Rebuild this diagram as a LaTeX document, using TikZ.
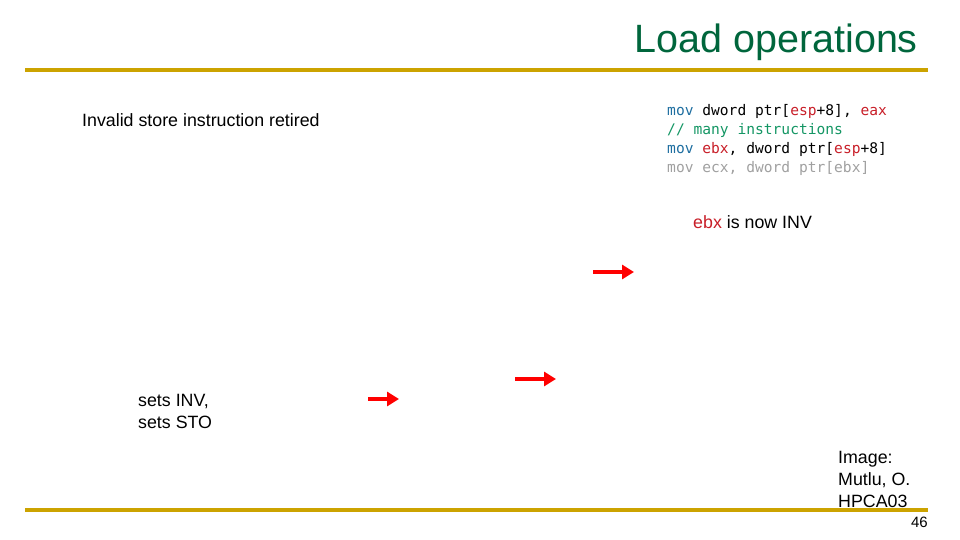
\documentclass[tikz,border=0pt]{standalone}
\usepackage{fontspec}
\setmainfont{Liberation Sans}
\setmonofont{DejaVu Sans Mono}
\usetikzlibrary{positioning,arrows.meta}
\definecolor{titlegreen}{RGB}{0,102,60}
\definecolor{rulegold}{RGB}{204,163,0}
\definecolor{kwblue}{RGB}{30,110,160}
\definecolor{regred}{RGB}{200,30,40}
\definecolor{cmtgreen}{RGB}{20,150,100}
\definecolor{dimgray}{RGB}{160,160,160}
\tikzset{
    x=1pt, y=-1pt,
    rule/.style = {draw=rulegold, line width=3.5pt},
    txt/.style = {anchor=west, font=\fontsize{17.8}{22}\selectfont, align=left, inner sep=0pt},
    code/.style = {anchor=north west, font=\ttfamily\fontsize{14.6}{19}\selectfont, align=left, inner sep=0pt},
    redarrow/.style = {draw=red, line width=4.5pt, -{Triangle[length=12pt,width=14pt]}},
}
\begin{document}
\begin{tikzpicture}
    \useasboundingbox (0,0) rectangle (960,540);
    \node[anchor=base east, font=\fontsize{39.5}{44}\selectfont, text=titlegreen, inner sep=0pt] (title) at (918,53) {Load operations};
    \coordinate (topl) at (25,70);
    \coordinate (topr) at (928,70);
    \coordinate (botl) at (25,510);
    \coordinate (botr) at (928,510);
    \path[rule] (topl) -- (topr);
    \path[rule] (botl) -- (botr);

    \node[txt] (retired) at (82,120) {Invalid store instruction retired};
    \node[code] (listing) at (667,104) {%
        \textcolor{kwblue}{mov} dword ptr[\textcolor{regred}{esp}+8], \textcolor{regred}{eax}\\
        \textcolor{cmtgreen}{// many instructions}\\
        \textcolor{kwblue}{mov} \textcolor{regred}{ebx}, dword ptr[\textcolor{regred}{esp}+8]\\
        \textcolor{dimgray}{mov ecx, dword ptr[ebx]}};
    \node[txt] (inv) at (693,222) {\textcolor{regred}{ebx} is now INV};
    \node[txt] (sets) at (138,411) {sets INV,\\sets STO};
    \node[txt] (credit) at (838,479) {Image:\\Mutlu, O.\\HPCA03};
    \node[anchor=base east, font=\fontsize{15}{18}\selectfont, inner sep=0pt] (page) at (928,527) {46};

    \coordinate (a1s) at (593,272);
    \coordinate (a1e) at (634,272);
    \coordinate (a2s) at (515,379);
    \coordinate (a2e) at (556,379);
    \coordinate (a3s) at (368,399);
    \coordinate (a3e) at (399,399);
    \path[redarrow] (a1s) -- (a1e);
    \path[redarrow] (a2s) -- (a2e);
    \path[redarrow] (a3s) -- (a3e);
\end{tikzpicture}
\end{document}
